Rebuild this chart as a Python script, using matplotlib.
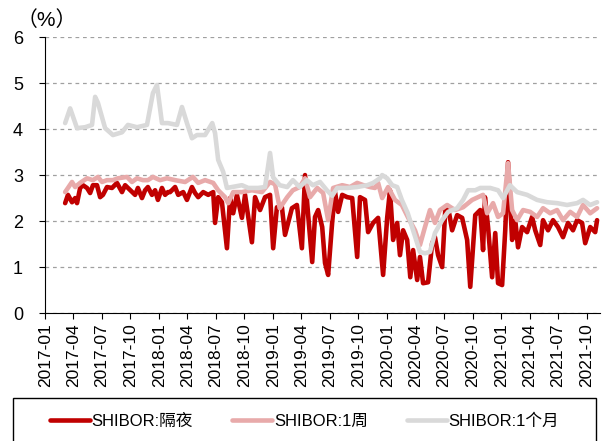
import matplotlib
matplotlib.use('Agg')
import matplotlib.pyplot as plt
import matplotlib.dates as mdates
from matplotlib.patches import Rectangle
import pandas as pd

# SHIBOR overnight
on_dates = ['2017-03-06', '2017-03-15', '2017-03-28', '2017-04-07', '2017-04-13', '2017-04-23',
            '2017-05-02', '2017-05-15', '2017-05-25', '2017-06-03', '2017-06-16', '2017-06-26',
            '2017-07-05', '2017-07-18', '2017-08-03', '2017-08-19', '2017-09-04', '2017-09-14',
            '2017-09-23', '2017-10-06', '2017-10-16', '2017-10-25', '2017-11-07', '2017-11-17',
            '2017-11-26', '2017-12-09', '2017-12-19', '2017-12-28', '2018-01-10', '2018-01-20',
            '2018-01-29', '2018-02-05', '2018-02-21', '2018-03-03', '2018-03-19', '2018-03-31',
            '2018-04-16', '2018-04-26', '2018-05-06', '2018-05-22', '2018-06-07', '2018-06-23',
            '2018-06-29', '2018-07-09', '2018-07-21', '2018-08-06', '2018-08-16', '2018-08-26',
            '2018-09-07', '2018-09-23', '2018-10-03', '2018-10-25', '2018-11-04', '2018-11-20',
            '2018-12-06', '2018-12-22', '2019-01-01', '2019-01-13', '2019-01-29', '2019-02-08',
            '2019-02-18', '2019-03-02', '2019-03-18', '2019-04-03', '2019-04-13', '2019-04-23',
            '2019-05-06', '2019-05-15', '2019-05-25', '2019-06-07', '2019-06-16', '2019-06-26',
            '2019-07-09', '2019-07-18', '2019-07-28', '2019-08-10', '2019-08-26', '2019-09-11',
            '2019-09-27', '2019-10-06', '2019-10-22', '2019-11-01', '2019-11-17', '2019-12-03',
            '2019-12-19', '2020-01-01', '2020-01-10', '2020-01-20', '2020-02-02', '2020-02-11',
            '2020-02-21', '2020-03-05', '2020-03-15', '2020-03-24', '2020-04-06', '2020-04-15',
            '2020-04-25', '2020-05-11', '2020-05-24', '2020-06-02', '2020-06-12', '2020-06-25',
            '2020-07-05', '2020-07-14', '2020-07-27', '2020-08-12', '2020-08-28', '2020-09-13',
            '2020-09-23', '2020-10-09', '2020-10-25', '2020-11-03', '2020-11-09', '2020-11-19',
            '2020-12-02', '2020-12-12', '2020-12-21', '2021-01-03', '2021-01-13', '2021-01-22',
            '2021-02-04', '2021-02-14', '2021-02-23', '2021-03-08', '2021-03-24', '2021-04-09',
            '2021-04-19', '2021-05-05', '2021-05-14', '2021-05-30', '2021-06-15', '2021-07-01',
            '2021-07-17', '2021-08-02', '2021-08-18', '2021-08-31', '2021-09-16', '2021-09-26',
            '2021-10-12', '2021-10-28', '2021-11-03']
on_vals = [2.39, 2.57, 2.41, 2.50, 2.39, 2.72,
           2.78, 2.72, 2.61, 2.78, 2.78, 2.52,
           2.57, 2.74, 2.72, 2.83, 2.63, 2.78,
           2.72, 2.63, 2.57, 2.72, 2.50, 2.67,
           2.74, 2.57, 2.67, 2.46, 2.72, 2.57,
           2.63, 2.63, 2.74, 2.57, 2.63, 2.46,
           2.74, 2.61, 2.52, 2.63, 2.57, 2.63,
           1.96, 2.52, 2.41, 1.41, 2.50, 2.17,
           2.57, 2.07, 2.57, 1.54, 2.52, 2.24,
           2.52, 2.57, 1.41, 2.30, 2.30, 1.70,
           1.96, 2.28, 2.35, 1.41, 3.00, 2.13,
           1.11, 2.09, 2.24, 1.87, 1.09, 0.83,
           1.98, 2.63, 2.20, 2.57, 2.52, 2.50,
           1.22, 2.52, 2.46, 1.76, 1.96, 2.07,
           0.83, 2.07, 2.67, 1.59, 1.96, 1.26,
           1.80, 1.59, 0.78, 1.37, 0.72, 1.22,
           0.65, 0.67, 1.52, 1.65, 1.26, 1.00,
           2.24, 2.30, 1.80, 2.13, 2.07, 1.59,
           0.57, 2.13, 2.24, 1.37, 2.52, 1.87,
           0.78, 1.74, 0.65, 0.61, 1.80, 3.28,
           1.59, 2.02, 1.43, 1.87, 1.76, 2.09,
           1.80, 1.48, 2.02, 1.80, 2.02, 1.87,
           1.65, 1.96, 1.80, 2.02, 1.96, 1.52,
           1.87, 1.76, 2.02]

# SHIBOR 1 week
w1_dates = ['2017-03-06', '2017-03-28', '2017-04-07', '2017-04-23', '2017-05-15', '2017-06-03',
            '2017-06-19', '2017-07-02', '2017-07-18', '2017-08-06', '2017-08-22', '2017-09-20',
            '2017-10-06', '2017-10-22', '2017-11-10', '2017-11-26', '2017-12-12', '2018-01-04',
            '2018-01-26', '2018-02-21', '2018-03-25', '2018-04-19', '2018-05-06', '2018-05-28',
            '2018-06-23', '2018-07-09', '2018-07-31', '2018-08-10', '2018-08-26', '2018-09-23',
            '2018-10-25', '2018-11-26', '2018-12-22', '2019-01-07', '2019-01-22', '2019-02-15',
            '2019-03-05', '2019-03-27', '2019-04-13', '2019-04-29', '2019-05-22', '2019-06-10',
            '2019-06-26', '2019-07-12', '2019-08-10', '2019-09-04', '2019-09-27', '2019-10-17',
            '2019-11-07', '2019-11-23', '2019-12-03', '2019-12-16', '2020-01-04', '2020-01-26',
            '2020-02-17', '2020-03-07', '2020-03-30', '2020-04-15', '2020-05-01', '2020-05-17',
            '2020-06-02', '2020-06-18', '2020-07-11', '2020-08-05', '2020-08-31', '2020-09-29',
            '2020-10-18', '2020-11-03', '2020-11-16', '2020-12-05', '2020-12-21', '2021-01-06',
            '2021-01-22', '2021-02-04', '2021-02-20', '2021-03-11', '2021-04-03', '2021-04-25',
            '2021-05-14', '2021-06-06', '2021-06-28', '2021-07-17', '2021-08-09', '2021-08-31',
            '2021-09-19', '2021-10-12', '2021-11-03']
w1_vals = [2.63, 2.85, 2.74, 2.83, 2.93, 2.89,
           2.96, 2.85, 2.89, 2.89, 2.93, 2.96,
           2.85, 2.93, 2.89, 2.89, 2.96, 2.89,
           2.93, 2.89, 2.85, 2.96, 2.83, 2.89,
           2.83, 2.67, 2.52, 2.39, 2.63, 2.63,
           2.67, 2.63, 2.85, 2.80, 2.28, 2.52,
           2.67, 2.74, 2.93, 2.52, 2.72, 2.61,
           2.02, 2.72, 2.78, 2.74, 2.83, 2.78,
           2.74, 2.72, 2.83, 2.50, 2.74, 2.46,
           2.35, 2.09, 1.80, 1.48, 1.87, 2.24,
           1.96, 2.24, 2.35, 2.24, 2.30, 2.46,
           2.52, 2.57, 2.17, 2.39, 2.09, 2.17,
           3.26, 2.24, 2.02, 2.24, 2.20, 2.09,
           2.28, 2.17, 2.24, 2.02, 2.20, 2.09,
           2.35, 2.17, 2.28]

# SHIBOR 1 month
m1_dates = ['2017-03-06', '2017-03-22', '2017-04-13', '2017-05-09', '2017-05-31', '2017-06-10',
            '2017-06-19', '2017-07-12', '2017-08-06', '2017-09-04', '2017-09-23', '2017-10-22',
            '2017-11-23', '2017-12-12', '2017-12-25', '2018-01-10', '2018-01-29', '2018-02-27',
            '2018-03-15', '2018-03-31', '2018-04-16', '2018-05-02', '2018-05-28', '2018-06-20',
            '2018-06-29', '2018-07-09', '2018-07-25', '2018-08-06', '2018-08-22', '2018-09-23',
            '2018-10-13', '2018-11-14', '2018-12-06', '2018-12-22', '2019-01-01', '2019-01-22',
            '2019-02-15', '2019-03-05', '2019-03-27', '2019-04-19', '2019-05-08', '2019-05-31',
            '2019-06-22', '2019-07-09', '2019-07-25', '2019-08-26', '2019-09-27', '2019-10-29',
            '2019-11-17', '2019-12-09', '2019-12-16', '2020-01-01', '2020-01-17', '2020-02-02',
            '2020-02-17', '2020-03-07', '2020-03-24', '2020-04-15', '2020-05-01', '2020-05-17',
            '2020-06-02', '2020-06-25', '2020-07-14', '2020-08-12', '2020-08-31', '2020-09-16',
            '2020-10-09', '2020-10-25', '2020-11-26', '2020-12-21', '2021-01-06', '2021-01-28',
            '2021-02-20', '2021-03-24', '2021-04-25', '2021-05-27', '2021-06-28', '2021-07-30',
            '2021-08-31', '2021-09-19', '2021-10-12', '2021-11-03']
m1_vals = [4.13, 4.45, 4.02, 4.04, 4.09, 4.70,
           4.57, 4.02, 3.87, 3.93, 4.09, 4.04,
           4.09, 4.78, 4.96, 4.13, 4.13, 4.09,
           4.48, 4.13, 3.80, 3.87, 3.87, 4.13,
           3.91, 3.33, 3.07, 2.72, 2.74, 2.78,
           2.72, 2.72, 2.74, 3.48, 2.95, 2.78,
           2.74, 2.89, 2.74, 2.89, 2.78, 2.85,
           2.67, 2.55, 2.72, 2.72, 2.74, 2.78,
           2.83, 2.93, 3.00, 2.93, 2.78, 2.74,
           2.46, 2.17, 1.80, 1.33, 1.30, 1.33,
           1.74, 2.02, 2.20, 2.28, 2.46, 2.67,
           2.67, 2.72, 2.72, 2.67, 2.50, 2.78,
           2.63, 2.57, 2.46, 2.41, 2.39, 2.35,
           2.39, 2.46, 2.35, 2.41]

labels = ['SHIBOR:隔夜', 'SHIBOR:1周', 'SHIBOR:1个月']
colors = ['#C00000', '#E8AAAA', '#D9D9D9']

plt.rcParams['font.family'] = ['Liberation Sans', 'Noto Sans CJK SC']

fig = plt.figure(figsize=(6.02, 4.41), dpi=100)
ax = fig.add_axes([0.075, 0.29, 0.922, 0.626])

series = [(on_dates, on_vals), (w1_dates, w1_vals), (m1_dates, m1_vals)]
for (d, v), lab, c in zip(series, labels, colors):
    ax.plot(pd.to_datetime(d), v, color=c, lw=3.3, label=lab,
            solid_joinstyle='round', solid_capstyle='round')

ax.set_ylim(0, 6)
ax.set_yticks(range(7))
ax.set_xlim(pd.Timestamp('2017-01-01'), pd.Timestamp('2021-11-13'))
ax.xaxis.set_major_locator(mdates.MonthLocator(bymonth=[1, 4, 7, 10]))
ax.xaxis.set_major_formatter(mdates.DateFormatter('%Y-%m'))
ax.tick_params(axis='x', rotation=90, labelsize=12.5, length=4, color='black')
ax.tick_params(axis='y', labelsize=13, length=4, pad=12)
ax.grid(axis='y', ls=(0, (3, 3)), color='#A0A0A0', lw=0.9)
ax.set_axisbelow(True)
for s in ['top', 'right']:
    ax.spines[s].set_visible(False)

fig.text(17 / 602, 0.955, '（%）', fontsize=15, ha='left', va='center')

# legend box at the bottom
fig.patches.append(Rectangle((13 / 602, -0.05), 583 / 602, 0.05 + 43 / 441, transform=fig.transFigure,
                             fill=False, edgecolor='black', lw=1.0))
fig.legend(loc='center left', bbox_to_anchor=(50 / 602, 20 / 441), ncol=3, frameon=False,
           fontsize=12, handlelength=2.4, handletextpad=0.1, columnspacing=2.35,
           borderpad=0, borderaxespad=0)

plt.savefig('out.png', dpi=100)
